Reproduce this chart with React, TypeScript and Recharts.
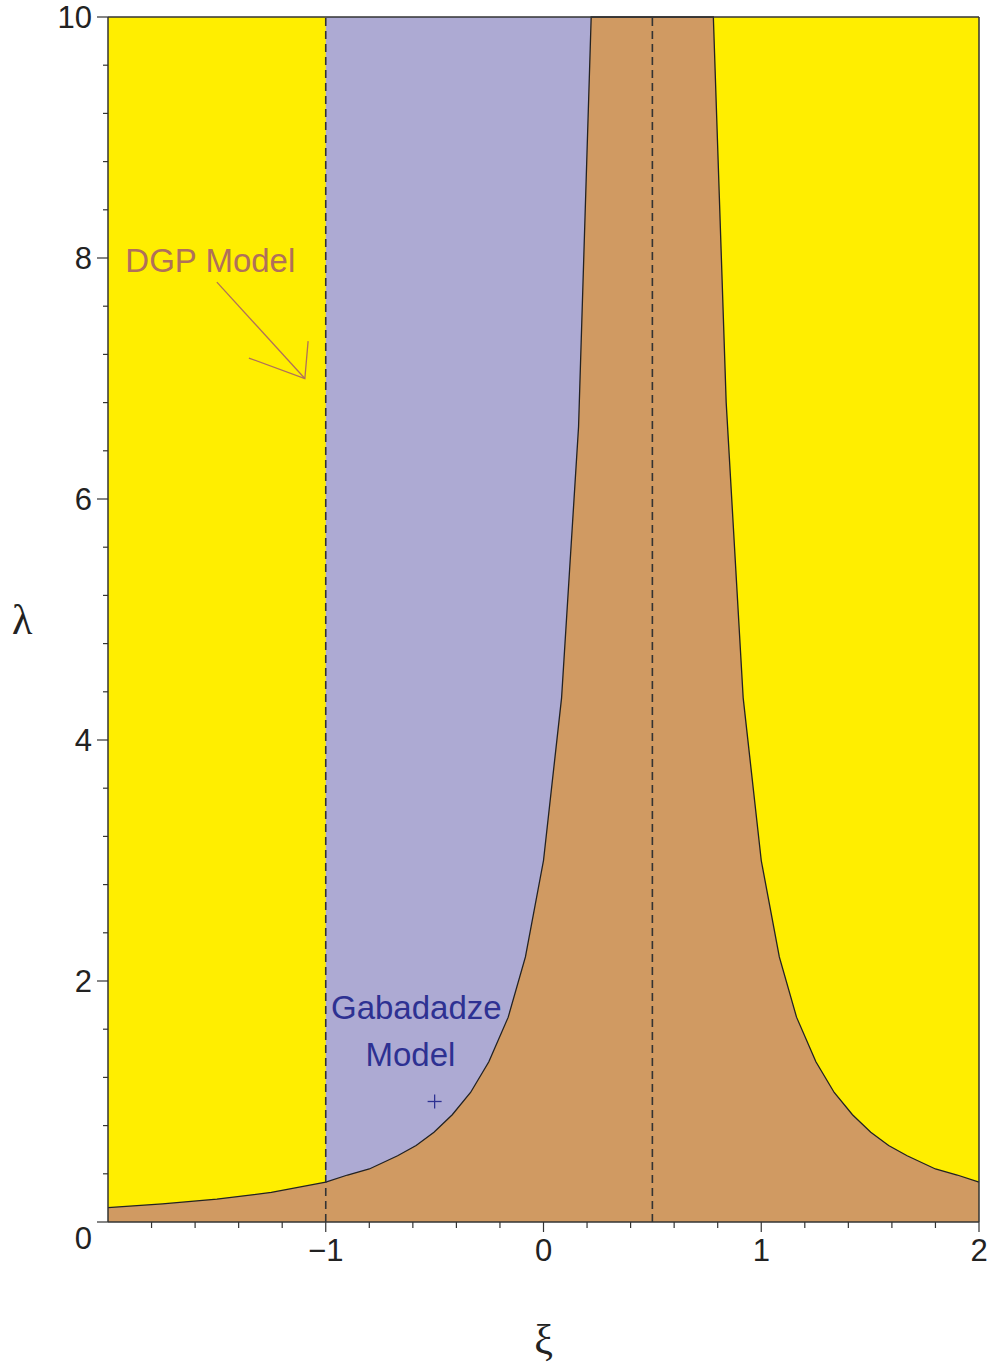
import { Area, ComposedChart, CartesianGrid, Label, Line, Scatter, XAxis, YAxis } from "recharts"

// boundary curve lambda(xi) (clipped at 10 around the pole)
const xiValues = [-2, -1.75, -1.5, -1.25, -1, -0.9, -0.8, -0.67, -0.585, -0.503, -0.419, -0.335, -0.251, -0.162, -0.083, 0, 0.083, 0.161, 0.219, 0.78, 0.839, 0.917, 1, 1.083, 1.162, 1.251, 1.335, 1.419, 1.503, 1.585, 1.67, 1.8, 1.9, 2]
const lambdaValues = [0.12, 0.15, 0.19, 0.245, 0.33, 0.39, 0.44, 0.55, 0.635, 0.745, 0.89, 1.075, 1.33, 1.7, 2.2, 3.0, 4.35, 6.6, 10, 10, 6.8, 4.35, 3.0, 2.2, 1.7, 1.33, 1.075, 0.89, 0.745, 0.635, 0.55, 0.44, 0.39, 0.33]

// Gabadadze region spans from xi = -1 up to where the curve leaves the frame
const blueFrom = -1
const blueTo = 0.219
const lambdaMax = 10

const guideXi = [-1, 0.5]

const xTicks = [-2, -1.8, -1.6, -1.4, -1.2, -1, -0.8, -0.6, -0.4, -0.2, 0, 0.2, 0.4, 0.6, 0.8, 1, 1.2, 1.4, 1.6, 1.8, 2]
const xMajor = [-1, 0, 1, 2]
const yTicks = [0, 0.4, 0.8, 1.2, 1.6, 2, 2.4, 2.8, 3.2, 3.6, 4, 4.4, 4.8, 5.2, 5.6, 6, 6.4, 6.8, 7.2, 7.6, 8, 8.4, 8.8, 9.2, 9.6, 10]
const yMajor = [0, 2, 4, 6, 8, 10]

// annotations
const dgpLabel = [{ xi: -1.53, v: 7.98, text: "DGP Model" }]
const dgpArrowShaft = [{ xi: -1.5, v: 7.8 }, { xi: -1.096, v: 7.0 }]
const dgpArrowHead = [{ xi: -1.353, v: 7.17 }, { xi: -1.096, v: 7.0 }, { xi: -1.081, v: 7.31 }]
const gabLabels = [
  { xi: -0.584, v: 1.784, text: "Gabadadze" },
  { xi: -0.611, v: 1.394, text: "Model" },
]
const gabPoint = [{ xi: -0.5, v: 1.0 }]

const YELLOW = "#FFEE00"
const BLUE = "#ADAAD3"
const BROWN = "#D09A62"
const DGP_COLOR = "#B0705A"
const GAB_COLOR = "#2D3192"
const AXIS = "#333"
const FONT = "'Liberation Sans', Arial, sans-serif"

const curveData = xiValues.map((xi, i) => ({
  xi,
  lam: lambdaValues[i],
  blueTop: xi >= blueFrom && xi <= blueTo ? lambdaMax : null,
}))

const fmt = (v: number) => (v < 0 ? "\u2212" + Math.abs(v) : String(v))

function YTick(props: any) {
  const { x, y, payload } = props
  const major = yMajor.includes(payload.value)
  return (
    <g>
      <line x1={x - (major ? 11 : 5)} x2={x} y1={y} y2={y} stroke={AXIS} strokeWidth={1.2} />
      {major && (
        <text x={x - 16} y={y + (payload.value === 0 ? 27 : 11)} textAnchor="end" fontSize={31} fontFamily={FONT} fill="#222">
          {payload.value}
        </text>
      )}
    </g>
  )
}

function XTick(props: any) {
  const { x, y, payload } = props
  if (payload.value === -2) return <g />
  const major = xMajor.includes(payload.value)
  return (
    <g>
      <line x1={x} x2={x} y1={y} y2={y + (major ? 10 : 6)} stroke={AXIS} strokeWidth={1.2} />
      {major && (
        <text x={x} y={y + 39} textAnchor="middle" fontSize={31} fontFamily={FONT} fill="#222">
          {fmt(payload.value)}
        </text>
      )}
    </g>
  )
}

const TextShape = (color: string) => (props: any) => (
  <text x={props.cx} y={props.cy} dy="0.36em" textAnchor="middle" fontSize={33} fontFamily={FONT} fill={color}>
    {props.payload.text}
  </text>
)

const PlusShape = (props: any) => (
  <g stroke={GAB_COLOR} strokeWidth={1.3}>
    <line x1={props.cx - 7} x2={props.cx + 7} y1={props.cy} y2={props.cy} />
    <line x1={props.cx} x2={props.cx} y1={props.cy - 7} y2={props.cy + 7} />
  </g>
)

export default function App() {
  return (
    <div style={{ position: "absolute", left: 0, top: 0 }}>
      <ComposedChart width={990} height={1368} data={curveData} margin={{ top: 16, right: 10, bottom: 0, left: 0 }}>
        <CartesianGrid horizontal={false} vertical={false} fill={YELLOW} />
        <XAxis
          type="number"
          dataKey="xi"
          domain={[-2, 2]}
          ticks={xTicks}
          interval={0}
          height={146}
          tickSize={0}
          tickMargin={0}
          tickLine={false}
          axisLine={{ stroke: AXIS, strokeWidth: 1.5 }}
          tick={<XTick />}
        >
          <Label value="ξ" position="insideBottom" offset={14} fontSize={42} fontFamily="'Liberation Serif', serif" fill="#222" />
        </XAxis>
        <XAxis xAxisId="top" orientation="top" type="number" dataKey="xi" domain={[-2, 2]} height={1} tick={false} tickLine={false} axisLine={{ stroke: AXIS, strokeWidth: 1.5 }} />
        <YAxis
          type="number"
          domain={[0, 10]}
          ticks={yTicks}
          interval={0}
          width={108}
          tickSize={0}
          tickMargin={0}
          tickLine={false}
          axisLine={{ stroke: AXIS, strokeWidth: 1.5 }}
          tick={<YTick />}
        >
          <Label value="λ" position="insideLeft" offset={12} fontSize={42} fontFamily="'Liberation Serif', serif" fill="#222" />
        </YAxis>
        <YAxis yAxisId="right" orientation="right" type="number" domain={[0, 10]} width={1} tick={false} tickLine={false} axisLine={{ stroke: AXIS, strokeWidth: 1.5 }} />

        <Area type="linear" dataKey="blueTop" baseValue={0} stroke="none" fill={BLUE} fillOpacity={1} isAnimationActive={false} />
        <Area type="linear" dataKey="lam" baseValue={0} stroke="#222" strokeWidth={1.3} fill={BROWN} fillOpacity={1} isAnimationActive={false} />
        {/* invisible series so the frame axes (top / right) get drawn */}
        <Line xAxisId="top" yAxisId="right" dataKey="lam" stroke="none" dot={false} activeDot={false} isAnimationActive={false} />

        {guideXi.map((g) => (
          <Line
            key={g}
            data={[{ xi: g, v: 0 }, { xi: g, v: lambdaMax }]}
            dataKey="v"
            stroke={AXIS}
            strokeWidth={1.6}
            strokeDasharray="8 5"
            dot={false}
            activeDot={false}
            isAnimationActive={false}
          />
        ))}
        <Line data={dgpArrowShaft} dataKey="v" stroke={DGP_COLOR} strokeWidth={1.3} dot={false} activeDot={false} isAnimationActive={false} />
        <Line data={dgpArrowHead} dataKey="v" stroke={DGP_COLOR} strokeWidth={1.3} dot={false} activeDot={false} isAnimationActive={false} />

        <Scatter data={dgpLabel} dataKey="v" shape={TextShape(DGP_COLOR)} isAnimationActive={false} />
        <Scatter data={gabLabels} dataKey="v" shape={TextShape(GAB_COLOR)} isAnimationActive={false} />
        <Scatter data={gabPoint} dataKey="v" shape={PlusShape} isAnimationActive={false} />
      </ComposedChart>
    </div>
  )
}
